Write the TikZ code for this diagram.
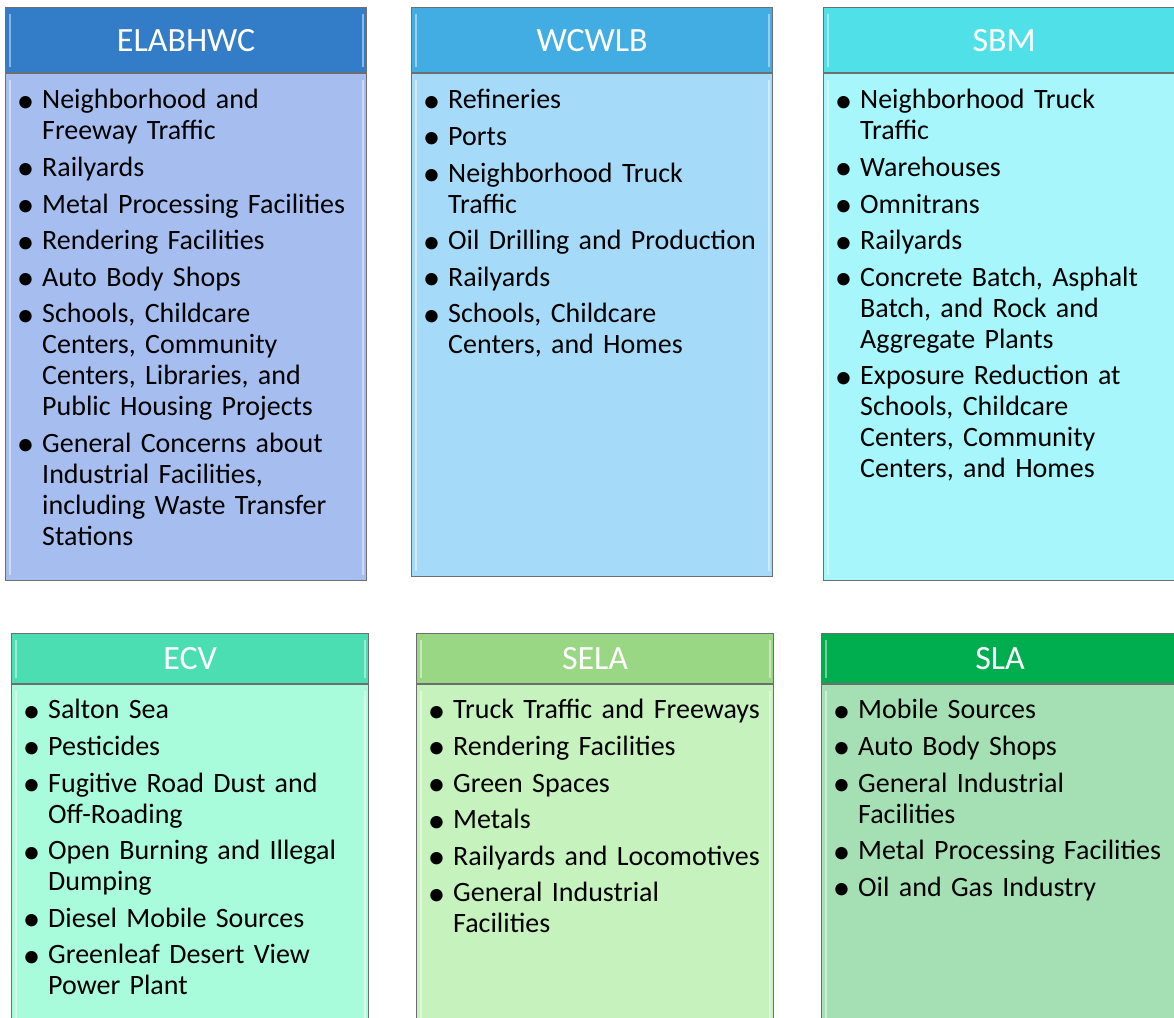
\documentclass[tikz,border=0pt]{standalone}
\usepackage{fontspec}
\setmainfont{Carlito}
\usepackage{tikz}
\usetikzlibrary{positioning}
\definecolor{elabhead}{HTML}{327CC8}
\definecolor{elabbody}{HTML}{A6BEEF}
\definecolor{wcwlbhead}{HTML}{41ADE2}
\definecolor{wcwlbbody}{HTML}{A6DAF9}
\definecolor{sbmhead}{HTML}{50E0E8}
\definecolor{sbmbody}{HTML}{A6F6FB}
\definecolor{ecvhead}{HTML}{4ADEB2}
\definecolor{ecvbody}{HTML}{A8FBDB}
\definecolor{selahead}{HTML}{99D784}
\definecolor{selabody}{HTML}{C6F2BE}
\definecolor{slahead}{HTML}{00AD4F}
\definecolor{slabody}{HTML}{A5E0B4}
\definecolor{edgegray}{HTML}{6E6E6E}
\newcommand{\areaitem}[1]{\par\hangindent=28pt\hangafter=1\noindent
  \makebox[23pt][c]{\raisebox{-3.5pt}{\scalebox{1.25}{\textbullet}}}\hspace{5pt}#1\par}

\begin{document}
\begin{tikzpicture}[
  x=1pt, y=-1pt,
  bevel/.style={path picture={
      \draw[white, opacity=0.45, line width=2pt]
        ([xshift=4pt, yshift=-6pt]path picture bounding box.north west)
        -- ([xshift=4pt, yshift=6pt]path picture bounding box.south west)
        ([xshift=-4pt, yshift=-6pt]path picture bounding box.north east)
        -- ([xshift=-4pt, yshift=6pt]path picture bounding box.south east);}},
  head/.style={bevel, draw=edgegray, line width=1.2pt, anchor=north west, minimum height=65pt,
               inner sep=0pt, text=white, font=\fontsize{34}{40}\selectfont},
  body/.style={bevel, draw=edgegray, line width=1.2pt, anchor=north, inner sep=0pt},
  list/.style={anchor=north west, inner sep=0pt, text width=420pt, align=left,
               font=\fontsize{28}{31}\selectfont\setlength{\parskip}{5.6pt}},
]
  \useasboundingbox (0,0) rectangle (1174,1017);
  \clip (0,0) rectangle (1174,1017);

  % Top row
  \node[head, fill=elabhead, minimum width=361pt] (elabHead) at (5,7) {ELABHWC};
  \node[body, fill=elabbody, minimum width=361pt, minimum height=507pt,
        below=0pt of elabHead] (elabBody) {};
  \node[list] (elabList) at (14,72) {%
    \areaitem{Neighborhood and\newline Freeway Traffic}
    \areaitem{Railyards}
    \areaitem{Metal Processing Facilities}
    \areaitem{Rendering Facilities}
    \areaitem{Auto Body Shops}
    \areaitem{Schools, Childcare\newline Centers, Community\newline Centers, Libraries, and\newline Public Housing Projects}
    \areaitem{General Concerns about\newline Industrial Facilities,\newline including Waste Transfer\newline Stations}};

  \node[head, fill=wcwlbhead, minimum width=361pt] (wcwlbHead) at (411,7) {WCWLB};
  \node[body, fill=wcwlbbody, minimum width=361pt, minimum height=503pt,
        below=0pt of wcwlbHead] (wcwlbBody) {};
  \node[list] (wcwlbList) at (420,72) {%
    \areaitem{Refineries}
    \areaitem{Ports}
    \areaitem{Neighborhood Truck\newline Traffic}
    \areaitem{Oil Drilling and Production}
    \areaitem{Railyards}
    \areaitem{Schools, Childcare\newline Centers, and Homes}};

  \node[head, fill=sbmhead, minimum width=361pt] (sbmHead) at (823,7) {SBM};
  \node[body, fill=sbmbody, minimum width=361pt, minimum height=507pt,
        below=0pt of sbmHead] (sbmBody) {};
  \node[list] (sbmList) at (832,72) {%
    \areaitem{Neighborhood Truck\newline Traffic}
    \areaitem{Warehouses}
    \areaitem{Omnitrans}
    \areaitem{Railyards}
    \areaitem{Concrete Batch, Asphalt\newline Batch, and Rock and\newline Aggregate Plants}
    \areaitem{Exposure Reduction at\newline Schools, Childcare\newline Centers, Community\newline Centers, and Homes}};

  % Bottom row
  \node[head, fill=ecvhead, minimum width=357pt, minimum height=50pt] (ecvHead) at (11,633) {ECV};
  \node[body, fill=ecvbody, minimum width=357pt, minimum height=360pt,
        below=0pt of ecvHead] (ecvBody) {};
  \node[list] (ecvList) at (20,682) {%
    \areaitem{Salton Sea}
    \areaitem{Pesticides}
    \areaitem{Fugitive Road Dust and\newline Off-Roading}
    \areaitem{Open Burning and Illegal\newline Dumping}
    \areaitem{Diesel Mobile Sources}
    \areaitem{Greenleaf Desert View\newline Power Plant}};

  \node[head, fill=selahead, minimum width=357pt, minimum height=50pt] (selaHead) at (416,633) {SELA};
  \node[body, fill=selabody, minimum width=357pt, minimum height=360pt,
        below=0pt of selaHead] (selaBody) {};
  \node[list] (selaList) at (425,682) {%
    \areaitem{Truck Traffic and Freeways}
    \areaitem{Rendering Facilities}
    \areaitem{Green Spaces}
    \areaitem{Metals}
    \areaitem{Railyards and Locomotives}
    \areaitem{General Industrial\newline Facilities}};

  \node[head, fill=slahead, minimum width=357pt, minimum height=50pt] (slaHead) at (821,633) {SLA};
  \node[body, fill=slabody, minimum width=357pt, minimum height=360pt,
        below=0pt of slaHead] (slaBody) {};
  \node[list] (slaList) at (830,682) {%
    \areaitem{Mobile Sources}
    \areaitem{Auto Body Shops}
    \areaitem{General Industrial\newline Facilities}
    \areaitem{Metal Processing Facilities}
    \areaitem{Oil and Gas Industry}};
\end{tikzpicture}
\end{document}
